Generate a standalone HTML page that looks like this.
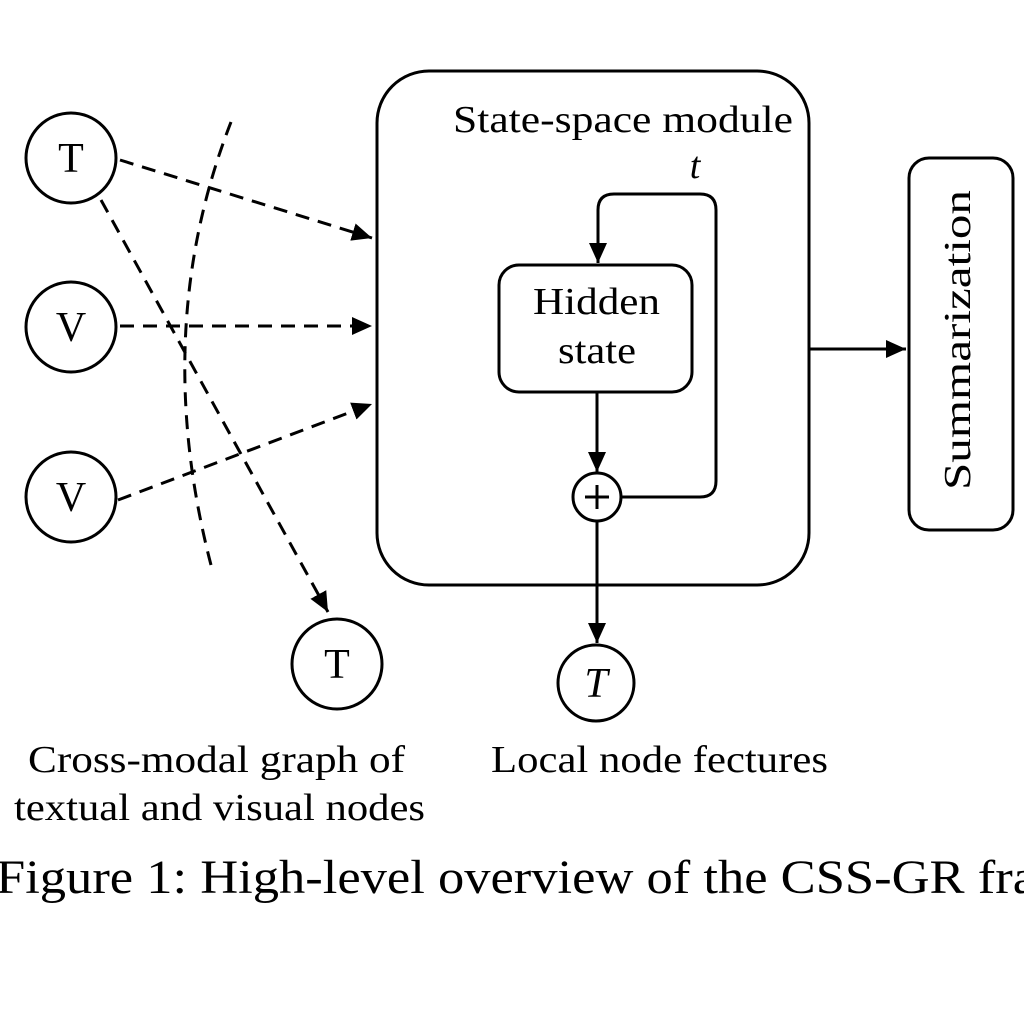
<!DOCTYPE html>
<html><head><meta charset="utf-8"><style>
html,body{margin:0;padding:0;background:#fff;}
svg{display:block;}
text{font-family:"Liberation Serif",serif;fill:#000;}
</style></head><body>
<svg width="1024" height="1024" viewBox="0 0 1024 1024" xmlns="http://www.w3.org/2000/svg">
<defs>
<marker id="b" markerWidth="20" markerHeight="18" refX="20" refY="9" orient="auto" markerUnits="userSpaceOnUse" viewBox="0 0 20 18">
<path d="M0,0 L20,9 L0,18 Z" fill="#000"/></marker>
</defs>
<g fill="none" stroke="#000" stroke-width="3">
<circle cx="71" cy="158" r="45"/>
<circle cx="71" cy="327" r="45"/>
<circle cx="71" cy="497" r="45"/>
<circle cx="337" cy="664" r="45"/>
<circle cx="596" cy="683" r="38"/>
<g stroke-dasharray="14,9">
<path d="M120,160 L372,238" marker-end="url(#b)"/>
<path d="M120,326 L372,326" marker-end="url(#b)"/>
<path d="M118,500 L372,404" marker-end="url(#b)"/>
<path d="M101,200 L328,612" marker-end="url(#b)"/>
<path d="M231,122 Q150,330 211,565"/>
</g>
<rect x="377" y="71" width="432" height="514" rx="52"/>
<rect x="499" y="265" width="193" height="127" rx="20"/>
<rect x="909" y="158" width="104" height="372" rx="20"/>
<path d="M621,497 L700,497 Q716,497 716,481 L716,210 Q716,194 700,194 L614,194 Q598,194 598,210 L598,263" marker-end="url(#b)"/>
<path d="M597,392 L597,472" marker-end="url(#b)"/>
<circle cx="597" cy="497" r="24"/>
<path d="M585,497 L609,497 M597,485 L597,509"/>
<path d="M597,521 L597,643" marker-end="url(#b)"/>
<path d="M810,349 L906,349" marker-end="url(#b)"/>
</g>
<text x="71" y="172" font-size="42" text-anchor="middle">T</text>
<text x="71" y="341" font-size="42" text-anchor="middle">V</text>
<text x="71" y="511" font-size="42" text-anchor="middle">V</text>
<text x="337" y="678" font-size="42" text-anchor="middle">T</text>
<text x="596" y="697" font-size="42" text-anchor="middle" font-style="italic">T</text>
<text x="453" y="132" font-size="38" textLength="340" lengthAdjust="spacingAndGlyphs">State-space module</text>
<text x="695" y="178" font-size="38" text-anchor="middle" font-style="italic">t</text>
<text x="533" y="314" font-size="38" textLength="127" lengthAdjust="spacingAndGlyphs">Hidden</text>
<text x="558" y="363" font-size="38" textLength="78" lengthAdjust="spacingAndGlyphs">state</text>
<text transform="translate(970,490) rotate(-90)" font-size="38" textLength="300" lengthAdjust="spacingAndGlyphs">Summarization</text>
<text x="28" y="772" font-size="38" textLength="377" lengthAdjust="spacingAndGlyphs">Cross-modal graph of</text>
<text x="14" y="820" font-size="38" textLength="411" lengthAdjust="spacingAndGlyphs">textual and visual nodes</text>
<text x="491" y="772" font-size="38" textLength="337" lengthAdjust="spacingAndGlyphs">Local node fectures</text>
<text x="-4" y="893" font-size="48" textLength="1040" lengthAdjust="spacingAndGlyphs">Figure 1: High-level overview of the CSS-GR fra</text>
</svg>
</body></html>
